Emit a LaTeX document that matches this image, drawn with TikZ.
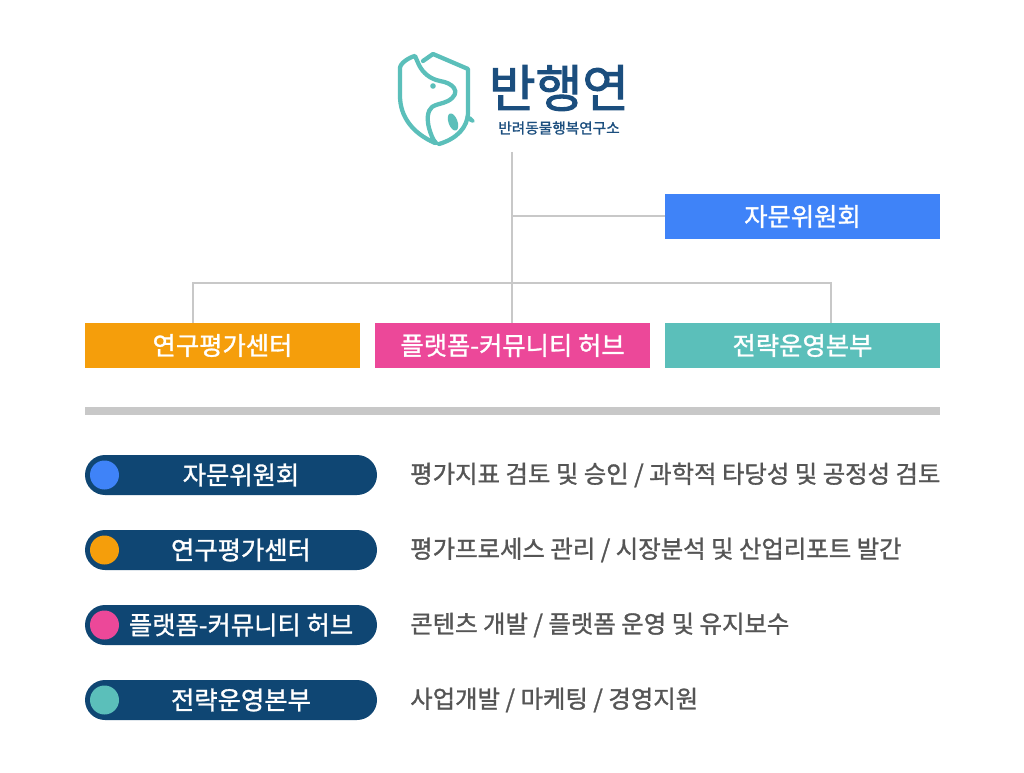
\documentclass[tikz,border=0pt]{standalone}
\usepackage{fontspec}
\setmainfont{Noto Sans CJK KR}
\newfontfamily\kr{Noto Sans CJK KR}[RawFeature={embolden=1.2}]
\newfontfamily\krl{Noto Sans CJK KR}[RawFeature={embolden=2}]
\definecolor{cblue}{HTML}{3F83F8}
\definecolor{corange}{HTML}{F59E0B}
\definecolor{cpink}{HTML}{EC4899}
\definecolor{cteal}{HTML}{5BBFBA}
\definecolor{cnavy}{HTML}{0F4673}
\definecolor{clogo}{HTML}{1B4E7E}
\definecolor{cline}{HTML}{C8C8C8}
\definecolor{cdesc}{HTML}{555555}
\tikzset{
  unitbox/.style={minimum width=206.25pt, minimum height=33.75pt, inner sep=0pt,
    text=white, font=\kr\fontsize{19pt}{21pt}\selectfont},
  pill/.style={fill=cnavy, rounded corners=15pt, minimum width=219pt, minimum height=30pt, inner sep=0pt},
  pilltext/.style={text=white, font=\kr\fontsize{19pt}{21pt}\selectfont, inner sep=0pt},
  desc/.style={anchor=west, text=cdesc, font=\kr\fontsize{18.3pt}{20pt}\selectfont, inner sep=0pt},
  conn/.style={draw=cline, line width=1.5pt},
  logoline/.style={draw=cteal, line width=3.2pt, line join=round, line cap=round},
  dot/.style={circle, minimum size=21.75pt, inner sep=0pt}
}
\begin{document}
\begin{tikzpicture}[x=0.75pt,y=-0.75pt]
\useasboundingbox (0,0) rectangle (1024,773);
\fill[white] (0,0) rectangle (1024,773);

% ---- logo ----
\draw[logoline] (435,143) .. controls (412,133) and (400,116) .. (400,96) -- (400,68)
  .. controls (400,63) and (410,57) .. (415,56) -- (419,65)
  .. controls (423,73) and (430,79) .. (440,81) .. controls (446,82) and (451,84) .. (454,88)
  .. controls (457,92) and (455,97) .. (448,101) .. controls (442,104) and (436,104) .. (432,107)
  .. controls (427,111) and (427,120) .. (429,128) .. controls (431,135) and (433,140) .. (436,143);
\draw[logoline] (423,61) -- (433,54) -- (468,69) -- (468,112) .. controls (468,128) and (456,139) .. (439,144);
\fill[cteal] (433,86) circle (2.8);
\fill[cteal, rotate around={-70:(453,122)}] (453,122) ellipse (9 and 4.5);
\fill[cteal, rotate around={-35:(470,119)}] (470,119) ellipse (5.5 and 2.5);
\node[anchor=center, text=clogo, inner sep=0pt, font=\krl\fontsize{38pt}{42pt}\selectfont] (logo) at (559,88) {반행연};
\node[anchor=center, text=clogo, inner sep=0pt, font=\kr\fontsize{11pt}{12pt}\selectfont] (sub) at (559,128) {반려동물행복연구소};
\coordinate (top) at (512,152);

% ---- chart boxes ----
\node[unitbox, fill=cblue] (adv) at (802.5,216.5) {자문위원회};
\node[unitbox, fill=corange] (res) at (222.5,345.5) {연구평가센터};
\node[unitbox, fill=cpink] (plat) at (512.5,345.5) {플랫폼-커뮤니티 허브};
\node[unitbox, fill=cteal] (strat) at (802.5,345.5) {전략운영본부};

\coordinate (dl) at (193,283);
\coordinate (dr) at (831,283);
\draw[conn] (top) -- (top |- plat.north);
\draw[conn] (top |- adv.west) -- (adv.west);
\draw[conn] (dl |- res.north) -- (dl) -- (dr) -- (dr |- strat.north);

% ---- separator ----
\fill[cline] (85,407) rectangle (940,415);

% ---- legend ----
\foreach \y/\c/\t/\d/\n in {
  475/cblue/자문위원회/{평가지표 검토 및 승인 / 과학적 타당성 및 공정성 검토}/a,
  550/corange/연구평가센터/{평가프로세스 관리 / 시장분석 및 산업리포트 발간}/b,
  625/cpink/플랫폼-커뮤니티 허브/{콘텐츠 개발 / 플랫폼 운영 및 유지보수}/c,
  700/cteal/전략운영본부/{사업개발 / 마케팅 / 경영지원}/d}{
  \node[pill] (pill\n) at (231,\y) {};
  \node[dot, fill=\c] (dot\n) at (104.5,\y) {};
  \node[pilltext] (pt\n) at (241,\y) {\t};
  \node[desc] (desc\n) at (410,\y) {\d};
}
\end{tikzpicture}
\end{document}
